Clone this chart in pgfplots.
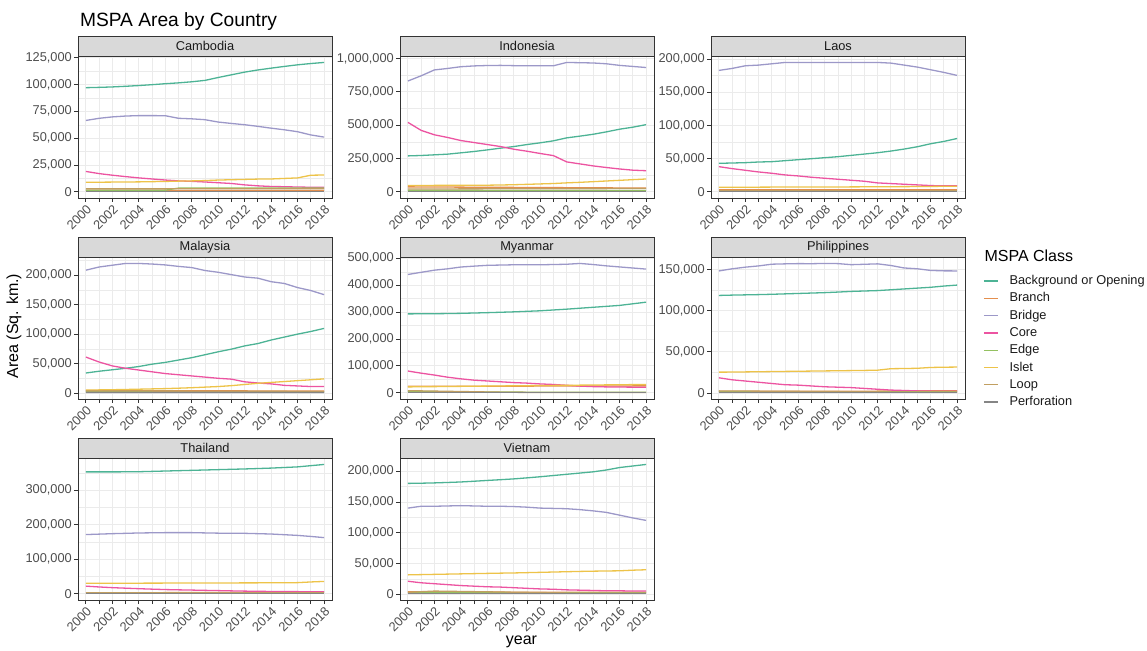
\documentclass[border=0pt]{standalone}
\usepackage{fontspec}
\setmainfont{Liberation Sans}
\usepackage{pgfplots}
\usepackage{pgfplotstable}
\pgfplotsset{compat=1.18}

% Dark2 palette, softened towards white
\definecolor{dBg}{HTML}{1B9E77}
\definecolor{dBr}{HTML}{D95F02}
\definecolor{dBd}{HTML}{7570B3}
\definecolor{dCo}{HTML}{E7298A}
\definecolor{dEd}{HTML}{66A61E}
\definecolor{dIs}{HTML}{E6AB02}
\definecolor{dLo}{HTML}{A6761D}
\definecolor{dPe}{HTML}{666666}
\colorlet{cBg}{dBg!78}
\colorlet{cBr}{dBr!70}
\colorlet{cBd}{dBd!72}
\colorlet{cCo}{dCo!80}
\colorlet{cEd}{dEd!70}
\colorlet{cIs}{dIs!72}
\colorlet{cLo}{dLo!70}
\colorlet{cPe}{dPe!80}
\definecolor{frame}{HTML}{333333}
\definecolor{tickc}{HTML}{4D4D4D}
\definecolor{stripc}{HTML}{1A1A1A}
\definecolor{stripfill}{HTML}{D9D9D9}
\definecolor{gridc}{HTML}{EBEBEB}

% columns: year, Background or Opening, Branch, Bridge, Core, Edge, Islet, Loop, Perforation
\pgfplotstableread{
year bg br bd co ed is lo pe
2000 97000 1200 66500 19000 1500 9000 2800 300
2001 97300 1200 68500 17000 1500 9000 2800 300
2002 97700 1200 69800 15500 1500 9100 2800 300
2003 98300 1200 70600 14200 1500 9200 2800 300
2004 99000 1200 71000 13000 1500 9300 2800 300
2005 99800 1200 71000 12000 1500 9500 2800 300
2006 100700 1200 70900 11000 1600 9700 2800 300
2007 101500 1300 68500 10200 3500 10000 2900 300
2008 102500 1300 68000 9800 3500 10200 2900 300
2009 103800 1300 67200 9200 3500 10500 2900 300
2010 106500 1300 65000 8500 3600 11000 2900 300
2011 109000 1300 63700 7800 3600 11300 2900 300
2012 111500 1300 62500 6500 3600 11600 2900 300
2013 113500 1300 61000 5600 3600 11900 2900 300
2014 115200 1300 59300 5000 3600 12000 2900 300
2015 116800 1300 57800 4800 3600 12500 2900 300
2016 118300 1300 56000 4500 3600 13000 2900 300
2017 119500 1300 53000 4300 3600 15500 2900 300
2018 120500 1300 51000 4200 3600 15700 2900 300
}\tCam
\pgfplotstableread{
year bg br bd co ed is lo pe
2000 270000 38000 831000 521000 12000 48000 22000 3000
2001 273000 37500 870000 461000 12000 48500 22200 3000
2002 278000 37000 914000 428000 11800 49000 22400 3000
2003 283000 36500 925000 408000 11800 49500 22600 3000
2004 293000 36000 938000 385000 11600 50000 22800 3000
2005 303000 35500 944000 370000 11600 50000 23000 3000
2006 315000 35000 947000 355000 11400 50500 23200 3000
2007 328000 34500 948000 340000 11400 52000 23400 3000
2008 340000 34000 946000 320000 11200 54000 23600 3000
2009 355000 33500 945000 305000 11200 57000 23800 3000
2010 368000 33000 945000 288000 11000 60000 24000 3000
2011 383000 32500 945000 272000 11000 63000 24200 3000
2012 405000 32000 970000 225000 10800 68000 24400 3000
2013 418000 31500 968000 210000 10800 72000 24600 3000
2014 432000 31000 966000 195000 10600 77000 24800 3000
2015 450000 30500 960000 183000 10600 82000 25000 3000
2016 470000 30000 948000 172000 10400 87000 25200 3000
2017 485000 29500 940000 163000 10400 92000 25400 3000
2018 504000 29000 932000 159000 10200 97000 25600 3000
}\tIdn
\pgfplotstableread{
year bg br bd co ed is lo pe
2000 43000 3000 183000 38000 1500 7000 2500 500
2001 43500 3000 186000 35000 1500 7000 2500 500
2002 44000 3000 190000 32500 1500 7100 2500 500
2003 45000 3000 191000 30000 1500 7100 2500 500
2004 45500 3000 193000 28000 1500 7200 2500 500
2005 47000 3000 195000 25500 1500 7200 2500 500
2006 48500 3000 195000 24000 1500 7300 2500 500
2007 50000 3000 195000 22000 1500 7300 2500 500
2008 51500 3000 195000 20500 1500 7400 2500 500
2009 53000 3000 195000 19000 1500 7400 2500 500
2010 55000 3000 195000 17500 1500 7500 2500 500
2011 57000 3000 195000 16000 1500 7600 2500 500
2012 59000 3000 195000 13500 1500 7700 2500 500
2013 61500 3000 194000 12500 1500 7800 2500 500
2014 64500 3000 191000 11500 1500 7900 2500 500
2015 68000 3000 188000 10500 1500 8000 2500 500
2016 72500 3000 184000 9500 1500 8200 2500 500
2017 76000 3000 180000 9000 1500 8400 2500 500
2018 80400 3000 175500 9200 1500 8600 2500 500
}\tLao
\pgfplotstableread{
year bg br bd co ed is lo pe
2000 34000 4200 208600 61000 2500 5000 3500 1000
2001 37000 4150 214000 52600 2500 5300 3450 1000
2002 39500 4100 217000 46000 2450 5600 3400 1000
2003 42000 4050 220000 42000 2450 6000 3350 1000
2004 45000 4000 220000 39000 2400 6500 3300 1000
2005 49000 3950 219000 36000 2400 7000 3250 950
2006 52000 3900 217500 33000 2350 7500 3200 950
2007 56000 3850 215000 31000 2350 8200 3150 950
2008 60000 3800 213000 29000 2300 9000 3100 950
2009 65000 3750 208000 27000 2300 10000 3050 900
2010 70000 3700 205000 25000 2250 11000 3000 900
2011 74500 3650 201000 23500 2250 12500 2950 900
2012 80000 3600 197000 19000 2200 14500 2900 900
2013 84000 3550 195000 17000 2200 16500 2850 850
2014 90000 3500 189000 15500 2150 18000 2800 850
2015 95000 3450 186000 13000 2150 19500 2750 850
2016 100000 3400 179000 12000 2100 21000 2700 850
2017 104500 3350 174000 11000 2100 22500 2650 800
2018 109700 3300 167000 10900 2050 24000 2600 800
}\tMys
\pgfplotstableread{
year bg br bd co ed is lo pe
2000 293500 24000 440000 81000 5000 22000 8000 1000
2001 293700 24100 448000 73000 4700 22500 7200 1000
2002 294000 24200 456000 66000 4400 23000 6400 1000
2003 294700 24300 461000 58000 4100 23500 5600 1000
2004 295500 24400 467700 52000 3800 24000 4800 1000
2005 296700 24500 471000 47000 3500 24500 4000 1000
2006 298000 24600 474000 44000 3200 25000 3200 1000
2007 299500 24700 475000 41000 2900 25500 2400 1000
2008 301000 24800 476000 38000 2600 26000 1800 1000
2009 303000 24900 476000 36000 2400 26500 1500 1000
2010 305000 25000 476000 33000 2200 27000 1500 1000
2011 308000 25100 477000 31000 2000 27500 1500 1000
2012 311000 25200 478000 28000 2000 28000 1500 1000
2013 314500 25300 481000 25000 2000 28500 1500 1000
2014 318000 25400 477000 23000 2000 29000 1500 1000
2015 321500 25500 472000 22000 2000 29500 1500 1000
2016 325000 25600 468000 21500 2000 30000 1500 1000
2017 331000 25700 464000 21000 2000 30500 1500 1000
2018 337000 25800 460000 20500 2000 31000 1500 1000
}\tMmr
\pgfplotstableread{
year bg br bd co ed is lo pe
2000 118600 2000 148400 18400 1500 25300 2500 500
2001 119000 2000 151000 16000 1500 25400 2400 500
2002 119300 2000 153000 14500 1500 25600 2300 500
2003 119600 2000 154500 13000 1500 25800 2200 500
2004 120000 2000 156600 11500 1500 26000 2100 500
2005 120500 2000 157000 10000 1500 26200 2000 500
2006 121000 2000 157300 9500 1500 26400 1900 500
2007 121500 2000 157200 8500 1500 26600 1800 500
2008 122000 2000 157500 7500 1500 26800 1700 500
2009 122700 2000 157300 7000 1500 27000 1600 500
2010 123500 2100 156000 6500 1500 27200 1500 500
2011 124000 2100 156500 5500 1500 27400 1400 500
2012 124500 2200 157000 4500 1500 27700 1300 500
2013 125500 2300 155000 3500 1500 29500 1200 500
2014 126500 2400 152000 3000 1500 29700 1100 500
2015 127500 2500 151000 2500 1500 30000 1000 500
2016 128500 2600 149000 2200 1500 31000 1000 500
2017 130000 2600 148500 2000 1500 31300 1000 500
2018 131200 2600 148400 2000 1500 31500 1000 500
}\tPhl
\pgfplotstableread{
year bg br bd co ed is lo pe
2000 352500 3000 171400 22400 2000 31000 3000 1000
2001 352500 3100 172700 20000 2000 31000 3000 1000
2002 352500 3200 174000 18000 2000 31000 3000 1000
2003 352700 3300 175000 16500 2000 31000 3000 1000
2004 353000 3400 176000 15000 2000 31000 3000 1000
2005 354000 3500 176500 13700 2000 31100 3000 1000
2006 355000 3600 177000 12500 2000 31200 3000 1000
2007 356000 3700 177000 11700 2000 31300 3000 1000
2008 357000 3800 177000 11000 2000 31400 3000 1000
2009 358000 3900 176200 10200 2000 31500 3000 1000
2010 359000 4000 175500 9500 2000 31600 3000 1000
2011 360000 4100 175200 8700 2000 31700 3000 1000
2012 361000 4200 175000 8000 2000 31800 3000 1000
2013 362200 4300 174000 7500 2000 31900 3000 1000
2014 363500 4400 173000 7000 2000 32000 3000 1000
2015 365200 4500 171000 6700 2000 32200 3000 1000
2016 367000 4600 169000 6500 2000 32500 3000 1000
2017 370500 4700 166000 6200 2000 34500 3000 1000
2018 374000 4800 162600 6000 2000 36000 3000 1000
}\tTha
\pgfplotstableread{
year bg br bd co ed is lo pe
2000 180200 4000 140000 21000 2000 31400 3000 1000
2001 180500 3900 143000 18500 2000 31800 4000 1000
2002 181000 3800 143000 17000 2000 32200 5000 1000
2003 181700 3700 143500 15500 2000 32600 4700 1000
2004 182500 3600 144000 14000 2000 33000 4400 1000
2005 183700 3500 143500 13000 2000 33400 4100 1000
2006 185000 3400 143000 12000 2000 33800 3800 1000
2007 186200 3300 143000 11500 2000 34200 3500 1000
2008 187500 3200 142500 10500 2000 34500 3200 1000
2009 189200 3100 141500 9500 2000 35000 2900 1000
2010 191000 3000 140000 8500 2000 35500 2600 1000
2011 193000 3000 139500 8000 2000 36000 2300 1000
2012 195000 3000 139000 7000 2000 36500 2000 1000
2013 197000 3000 137500 6500 2000 37000 2000 1000
2014 199000 3000 135500 6000 2000 37400 2000 1000
2015 202000 3000 133000 5500 2000 37700 2000 1000
2016 206000 3000 128500 5500 2000 38000 2000 1000
2017 208500 3000 124000 5000 2000 39000 2000 1000
2018 211000 3000 120000 5000 2000 39700 2000 1000
}\tVnm

\pgfplotsset{
  panel/.style={
    scale only axis, width=254pt, height=142pt, anchor=south west,
    xmin=1999.4, xmax=2018.6,
    xtick={2000,...,2018},
    xticklabels={2000,,2002,,2004,,2006,,2008,,2010,,2012,,2014,,2016,,2018},
    enlarge y limits=0.05,
    axis line style={draw=frame, line width=0.9pt},
    xmajorgrids, ymajorgrids, yminorgrids,
    major grid style={draw=gridc, line width=0.9pt},
    minor grid style={draw=gridc, line width=0.45pt},
    tick align=outside, major tick length=4pt, minor tick length=0pt,
    tick style={draw=frame, line width=0.9pt},
    xtick pos=bottom, ytick pos=left,
    ticklabel style={font=\fontsize{12.8pt}{14pt}\selectfont, text=tickc},
    xticklabel style={rotate=45, anchor=north east, inner sep=1.5pt},
    yticklabel style={inner sep=2pt},
    scaled y ticks=false,
    /pgf/number format/.cd, fixed, 1000 sep={,}, precision=0, assume math mode=true,
    /pgfplots/.cd,
    every axis plot/.append style={line width=1.3pt, mark=none},
  }
}

\newcommand\classlines[1]{%
  \addplot[cBg] table[x=year,y=bg] {#1};
  \addplot[cBr] table[x=year,y=br] {#1};
  \addplot[cBd] table[x=year,y=bd] {#1};
  \addplot[cCo] table[x=year,y=co] {#1};
  \addplot[cEd] table[x=year,y=ed] {#1};
  \addplot[cIs] table[x=year,y=is] {#1};
  \addplot[cLo] table[x=year,y=lo] {#1};
  \addplot[cPe] table[x=year,y=pe] {#1};
}

\newcommand\strip[2]{%
  \draw[fill=stripfill, draw=frame, line width=0.9pt]
    (#1.north west) rectangle ([yshift=20pt]#1.north east);
  \node[font=\fontsize{12.8pt}{14pt}\selectfont, text=stripc]
    at ([yshift=10pt]#1.north) {#2};
}

\begin{document}
\begin{tikzpicture}
\path[use as bounding box] (0pt,0pt) rectangle (1147pt,650pt);

% row 1
\begin{axis}[panel, name=cam, at={(78pt,452pt)},
  ytick={0,25000,50000,75000,100000,125000},
  minor ytick={12500,37500,62500,87500,112500}]
\classlines{\tCam}
\end{axis}
\strip{cam}{Cambodia}

\begin{axis}[panel, name=idn, at={(400pt,452pt)},
  ytick={0,250000,500000,750000,1000000},
  minor ytick={125000,375000,625000,875000}]
\classlines{\tIdn}
\end{axis}
\strip{idn}{Indonesia}

\begin{axis}[panel, name=lao, at={(711pt,452pt)},
  ytick={0,50000,100000,150000,200000},
  minor ytick={25000,75000,125000,175000}]
\classlines{\tLao}
\end{axis}
\strip{lao}{Laos}

% row 2
\begin{axis}[panel, name=mys, at={(78pt,251pt)},
  ytick={0,50000,100000,150000,200000},
  minor ytick={25000,75000,125000,175000,225000}]
\classlines{\tMys}
\end{axis}
\strip{mys}{Malaysia}

\begin{axis}[panel, name=mmr, at={(400pt,251pt)},
  ytick={0,100000,200000,300000,400000,500000},
  minor ytick={50000,150000,250000,350000,450000}]
\classlines{\tMmr}
\end{axis}
\strip{mmr}{Myanmar}

\begin{axis}[panel, name=phl, at={(711pt,251pt)},
  ytick={0,50000,100000,150000},
  minor ytick={25000,75000,125000},
  legend style={at={(1.071,0.878)}, anchor=north west, draw=none, fill=none,
    inner sep=0pt, row sep=4.3pt, column sep=11pt,
    nodes={inner sep=0pt, text height=10pt, text depth=3pt,
      font=\fontsize{12.8pt}{14pt}\selectfont, text=stripc}},
  legend cell align=left,
  legend image code/.code={\draw[#1, line width=1.3pt] (0pt,0pt) -- (14pt,0pt);}]
\classlines{\tPhl}
\legend{Background or Opening, Branch, Bridge, Core, Edge, Islet, Loop, Perforation}
\end{axis}
\strip{phl}{Philippines}

% row 3
\begin{axis}[panel, name=tha, at={(78pt,50pt)},
  ytick={0,100000,200000,300000},
  minor ytick={50000,150000,250000,350000}]
\classlines{\tTha}
\end{axis}
\strip{tha}{Thailand}

\begin{axis}[panel, name=vnm, at={(400pt,50pt)},
  ytick={0,50000,100000,150000,200000},
  minor ytick={25000,75000,125000,175000}]
\classlines{\tVnm}
\end{axis}
\strip{vnm}{Vietnam}

% titles
\node[anchor=base west, font=\fontsize{19.2pt}{22pt}\selectfont] at (76.5pt,623pt) {MSPA Area by Country};
\node[anchor=base, font=\fontsize{16pt}{19pt}\selectfont] at (521.5pt,6pt) {year};
\node[rotate=90, font=\fontsize{16pt}{19pt}\selectfont] at (14pt,324pt) {Area (Sq. km.)};
\node[anchor=west, font=\fontsize{16pt}{19pt}\selectfont] at (981pt,394.5pt) {MSPA Class};
\end{tikzpicture}
\end{document}
